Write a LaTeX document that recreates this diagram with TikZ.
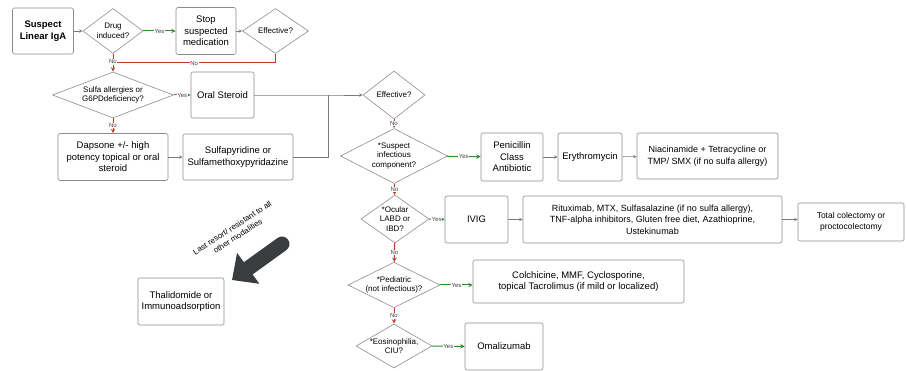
\documentclass[tikz,border=0pt]{standalone}
\usepackage{fontspec}
\setmainfont{Liberation Sans}
\usepackage{xcolor}
\usepackage{tikz}
\usetikzlibrary{shapes.geometric, arrows, arrows.meta, positioning}

\definecolor{boxgray}{HTML}{8C8C8C}
\definecolor{linegray}{HTML}{7A7A7A}
\definecolor{yesgreen}{HTML}{2E8B2E}
\definecolor{nored}{HTML}{C0392B}
\definecolor{bigdark}{HTML}{3A3D40}

\begin{document}
\begin{tikzpicture}[x=1pt, y=-1pt]
\tikzstyle{box} = [rectangle, rounded corners=2pt, draw=boxgray, line width=0.6pt, align=center, inner sep=1pt, font=\fontsize{9.5}{11.5}\selectfont]
\tikzstyle{decision} = [diamond, aspect=1.4, inner sep=0pt, draw=boxgray, line width=0.6pt, align=center, font=\fontsize{8}{9.5}\selectfont]
\tikzstyle{arrow} = [line width=0.6pt, draw=linegray, ->, >=stealth]
\tikzstyle{yesarrow} = [line width=1pt, draw=yesgreen, ->, >=stealth]
\tikzstyle{noarrow} = [line width=1pt, draw=nored, ->, >=stealth]
\tikzstyle{lbl} = [fill=white, inner sep=0.6pt, font=\fontsize{6}{7}\selectfont, text=black!75]
\tikzstyle{bigarrow} = [line width=15pt, draw=bigdark, line cap=round, -{Triangle[length=20pt, width=37pt]}]

\useasboundingbox (0,0) rectangle (906,371);

% Start and drug check
\node (suspect) [box, minimum width=61pt, minimum height=46pt, font=\fontsize{9.5}{12}\selectfont\bfseries] at (43,31) {Suspect\\Linear IgA};
\node (drug) [decision, minimum width=60pt, minimum height=45pt] at (113,31) {Drug\\induced?};
\node (stop) [box, minimum width=60pt, minimum height=47pt] at (206,31) {Stop\\suspected\\medication};
\node (eff1) [decision, minimum width=66pt, minimum height=45pt] at (275.5,31) {Effective?};
\coordinate (nojoin) at (113,63);

% First line therapy
\node (sulfa) [decision, aspect=2.6, minimum width=121pt, minimum height=46pt] at (113,95) {Sulfa allergies or\\G6PDdeficiency?};
\node (oral) [box, minimum width=63pt, minimum height=46pt] at (222.5,95) {Oral Steroid};
\node (dapsone) [box, minimum width=110pt, minimum height=47pt] at (113,157) {Dapsone +/- high\\potency topical or oral\\steroid};
\node (sulfapyr) [box, minimum width=110pt, minimum height=46pt] at (238,157) {Sulfapyridine or\\Sulfamethoxypyridazine};
\coordinate (join) at (328,95);

% Second line decisions
\node (eff2) [decision, minimum width=62pt, minimum height=48pt] at (394,95) {Effective?};
\node (infect) [decision, aspect=1.95, minimum width=107pt, minimum height=55pt] at (394,156) {*Suspect\\infectious\\component?};
\node (ocular) [decision, minimum width=68pt, minimum height=48pt] at (395,219) {*Ocular\\LABD or\\IBD?};
\node (pedia) [decision, aspect=2, minimum width=92pt, minimum height=45pt] at (394,285) {*Pediatric\\(not infectious)?};
\node (eosino) [decision, aspect=1.7, minimum width=76pt, minimum height=44pt] at (394,346) {*Eosinophilia,\\CIU?};

% Treatments
\node (penic) [box, minimum width=62pt, minimum height=48pt] at (512,157) {Penicillin\\Class\\Antibiotic};
\node (erythro) [box, minimum width=64pt, minimum height=48pt] at (590,157) {Erythromycin};
\node (niacin) [box, minimum width=141pt, minimum height=46pt, font=\fontsize{9}{11.5}\selectfont] at (707.5,156) {Niacinamide + Tetracycline or\\TMP/ SMX (if no sulfa allergy)};
\node (ivig) [box, minimum width=63pt, minimum height=47pt] at (476.5,219.5) {IVIG};
\node (ritux) [box, minimum width=259pt, minimum height=47pt, font=\fontsize{9}{11.5}\selectfont] at (652.5,219.5) {Rituximab, MTX, Sulfasalazine (if no sulfa allergy),\\TNF-alpha inhibitors, Gluten free diet, Azathioprine,\\Ustekinumab};
\node (total) [box, minimum width=106pt, minimum height=38pt, font=\fontsize{8.5}{11.5}\selectfont] at (851,222) {Total colectomy or\\proctocolectomy};
\node (colch) [box, minimum width=211pt, minimum height=43pt, font=\fontsize{9.5}{11.5}\selectfont] at (578.5,281.5) {Colchicine, MMF, Cyclosporine,\\topical Tacrolimus (if mild or localized)};
\node (omali) [box, minimum width=78pt, minimum height=47pt] at (504,346.5) {Omalizumab};
\node (thal) [box, minimum width=86pt, minimum height=47pt, font=\fontsize{9.5}{11.5}\selectfont] at (181,301.5) {Thalidomide or\\Immunoadsorption};

% Last resort pointer
\coordinate (bigtail) at (282,244);
\coordinate (bigtip) at (232,280);
\draw [bigarrow] (bigtail) -- (bigtip);
\node (lastnote) [align=center, rotate=33, font=\fontsize{8}{10}\selectfont] at (235,232) {Last resort/ resistant to all\\other modalities};

% Arrows
\draw [arrow] (suspect) -- (drug);
\draw [yesarrow] (drug) -- node[lbl] {Yes} (stop);
\draw [arrow] (stop) -- (eff1);
\draw [noarrow, -] (eff1.south) |- node[lbl, pos=0.75] {No} (nojoin);
\draw [noarrow] (drug) -- node[lbl, pos=0.45] {No} (sulfa);
\draw [yesarrow] (sulfa) -- node[lbl] {Yes} (oral);
\draw [noarrow] (sulfa) -- node[lbl] {No} (dapsone);
\draw [arrow] (dapsone) -- (sulfapyr);
\draw [arrow] (oral.east) -- (join) -- (eff2.west);
\draw [arrow, -] (sulfapyr.east) -| (join);
\draw [noarrow] (eff2) -- node[lbl] {No} (infect);
\draw [yesarrow] (infect) -- node[lbl] {Yes} (penic);
\draw [arrow] (penic) -- (erythro);
\draw [arrow] (erythro) -- (niacin);
\draw [noarrow] (infect) -- node[lbl] {No} (ocular);
\draw [yesarrow] (ocular) -- node[lbl] {Yes} (ivig);
\draw [arrow] (ivig) -- (ritux);
\draw [arrow] (ritux.east) -- (ritux.east -| total.west);
\draw [noarrow] (ocular) -- node[lbl] {No} (pedia);
\draw [yesarrow] (pedia.east) -- node[lbl] {Yes} (pedia.east -| colch.west);
\draw [noarrow] (pedia) -- node[lbl] {No} (eosino);
\draw [yesarrow] (eosino) -- node[lbl] {Yes} (omali);
\end{tikzpicture}
\end{document}
